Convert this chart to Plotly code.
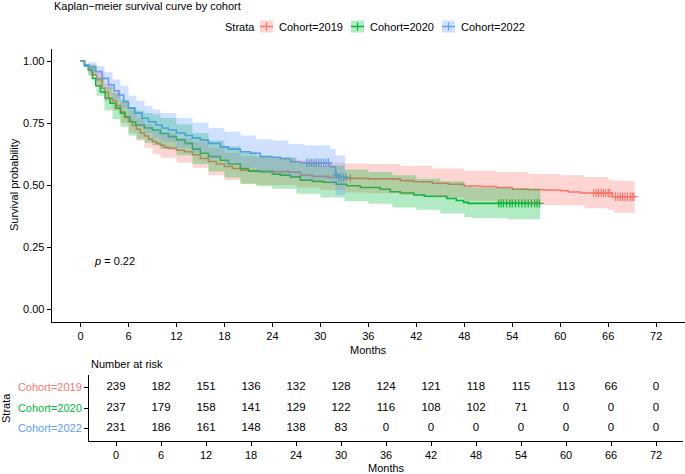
import numpy as np
import plotly.graph_objects as go

# ---------------- data ----------------
cohorts = ["Cohort=2019", "Cohort=2020", "Cohort=2022"]
colors = ["#F8766D", "#00BA38", "#619CFF"]
fills = ["rgba(248,118,109,0.3)", "rgba(0,186,56,0.3)", "rgba(97,156,255,0.3)"]

t_2019 = [0, 0.5, 1, 1.5, 2, 2.7, 3, 3.5, 4, 4.5, 5, 5.5, 6, 6.5, 7, 7.5, 8, 8.5, 9, 9.5, 10, 10.5, 11, 12, 13,
          14, 15, 16, 17, 18, 19, 20, 21, 22, 24, 26, 27.5, 29, 31, 33, 36, 38, 40, 41.7, 44, 46, 48, 50, 52, 54,
          56, 58, 60, 61, 62.5, 66.5, 69.3]
s_2019 = [1.0, 0.985, 0.965, 0.944, 0.925, 0.89, 0.875, 0.85, 0.84, 0.82, 0.795, 0.772, 0.757, 0.74, 0.725, 0.71,
          0.698, 0.685, 0.675, 0.667, 0.66, 0.652, 0.648, 0.64, 0.634, 0.622, 0.607, 0.595, 0.585, 0.575, 0.567,
          0.56, 0.558, 0.555, 0.554, 0.552, 0.54, 0.535, 0.531, 0.527, 0.525, 0.525, 0.518, 0.513, 0.507, 0.503,
          0.496, 0.494, 0.49, 0.483, 0.481, 0.48, 0.477, 0.472, 0.468, 0.453, 0.453]

t_2020 = [0, 0.5, 1, 1.5, 1.9, 2.5, 3.1, 3.7, 4.4, 5, 5.6, 6.2, 6.9, 8, 9, 10, 11, 12, 13.1, 14, 15, 16, 17.5, 18.5,
          20, 21, 22.5, 24, 25, 26.25, 27.5, 29, 30.4, 32, 33.3, 35, 37.5, 38.75, 40, 41.7, 43, 45.8, 47, 47.9,
          48.5, 57.5]
s_2020 = [1.0, 0.98, 0.964, 0.93, 0.90, 0.875, 0.85, 0.83, 0.81, 0.79, 0.775, 0.755, 0.742, 0.73, 0.722, 0.708,
          0.695, 0.682, 0.668, 0.645, 0.628, 0.615, 0.60, 0.585, 0.567, 0.556, 0.554, 0.544, 0.54, 0.533, 0.52,
          0.515, 0.511, 0.503, 0.497, 0.49, 0.483, 0.473, 0.468, 0.46, 0.455, 0.446, 0.438, 0.43, 0.426, 0.426]

t_2022 = [0, 0.5, 1, 1.9, 2.7, 3.5, 4.2, 4.8, 5.4, 6, 6.8, 7.7, 8.5, 9.4, 10.2, 11, 12, 13.1, 14, 15, 16, 17.5,
          18.5, 20, 21.25, 22.5, 24, 25, 26.25, 27.5, 31.25, 31.9, 32.3, 33.3]
s_2022 = [1.0, 0.985, 0.975, 0.957, 0.93, 0.903, 0.88, 0.863, 0.835, 0.81, 0.79, 0.769, 0.755, 0.742, 0.73,
          0.722, 0.71, 0.70, 0.69, 0.681, 0.668, 0.654, 0.645, 0.634, 0.628, 0.614, 0.612, 0.607, 0.594, 0.59,
          0.574, 0.54, 0.531, 0.531]

# confidence bands
bt_2019 = [0, 1, 2, 3, 4, 5, 6, 7, 8, 9, 10, 12, 14, 16, 18, 20, 22, 24, 27, 30, 33, 36, 40, 44, 48, 52, 56, 60,
           63, 66, 66.7, 69.3]
lo_2019 = [1, .945, .895, .84, .80, .75, .71, .68, .65, .625, .61, .59, .57, .54, .52, .505, .50, .50, .49, .48,
           .47, .467, .46, .45, .437, .43, .42, .418, .406, .40, .388, .388]
hi_2019 = [1, .985, .955, .91, .88, .84, .80, .77, .745, .725, .71, .69, .675, .65, .63, .615, .61, .61, .60, .59,
           .587, .585, .578, .567, .558, .553, .545, .54, .532, .522, .517, .517]

bt_2020 = [0, 1, 2, 3, 4, 5, 6, 7, 8, 9, 10, 12, 14, 16, 18, 20, 22, 24, 27, 30, 33, 36, 39, 42, 45, 48, 49, 53.5,
           57.5]
lo_2020 = [1, .94, .86, .80, .765, .735, .70, .685, .67, .66, .645, .62, .585, .555, .53, .505, .495, .485, .465,
           .45, .435, .425, .41, .40, .385, .37, .366, .362, .362]
hi_2020 = [1, .985, .935, .895, .87, .845, .815, .80, .79, .785, .77, .745, .71, .68, .655, .632, .62, .61, .59,
           .578, .563, .553, .54, .525, .515, .495, .49, .487, .487]

bt_2022 = [0, 1, 2, 3, 4, 5, 6, 7, 8, 9, 10, 12, 14, 16, 18, 20, 22, 24, 26, 28, 31.25, 31.9, 33.1]
lo_2022 = [1, .955, .925, .885, .845, .81, .76, .735, .71, .69, .675, .65, .63, .605, .585, .57, .552, .545, .53,
           .52, .50, .46, .453]
hi_2022 = [1, .995, .98, .955, .925, .90, .86, .84, .82, .805, .79, .77, .752, .73, .715, .70, .685, .68, .665,
           .66, .645, .62, .62]

# censoring times
c_2019 = [33.75, 64.2, 64.5, 64.8, 65.1, 65.4, 65.7, 66.0, 66.2, 66.9, 67.2, 67.5, 67.8, 68.1, 68.4, 68.75, 69.0,
          69.2]
c_2020 = [52.3, 52.6, 52.9, 53.3, 53.7, 54.0, 54.4, 54.8, 55.2, 55.6, 56.0, 56.4, 56.8, 57.1, 57.4]
c_2022 = [28.3, 28.6, 28.9, 29.2, 29.5, 29.8, 30.1, 30.4, 30.7, 31.0, 32.0, 32.3, 32.6, 32.9, 33.2]

# risk table
risk_times = [0, 6, 12, 18, 24, 30, 36, 42, 48, 54, 60, 66, 72]
risk_2019 = [239, 182, 151, 136, 132, 128, 124, 121, 118, 115, 113, 66, 0]
risk_2020 = [237, 179, 158, 141, 129, 122, 116, 108, 102, 71, 0, 0, 0]
risk_2022 = [231, 186, 161, 148, 138, 83, 0, 0, 0, 0, 0, 0, 0]

x_ticks = [0, 6, 12, 18, 24, 30, 36, 42, 48, 54, 60, 66, 72]
y_ticks = [0, 0.25, 0.5, 0.75, 1.0]
y_ticktext = ["0.00", "0.25", "0.50", "0.75", "1.00"]

curves = [(t_2019, s_2019), (t_2020, s_2020), (t_2022, s_2022)]
bands = [(bt_2019, lo_2019, hi_2019), (bt_2020, lo_2020, hi_2020), (bt_2022, lo_2022, hi_2022)]
censors = [c_2019, c_2020, c_2022]
risks = [risk_2019, risk_2020, risk_2022]

FONT = "Liberation Sans, Arial, Helvetica, sans-serif"
FS = 11

fig = go.Figure()

# survival lines
for (t, s), col in zip(curves, colors):
    fig.add_trace(go.Scatter(x=t, y=s, mode="lines", line=dict(color=col, width=1.6, shape="hv"),
                             showlegend=False, hoverinfo="skip", xaxis="x", yaxis="y"))

# censor marks
for (t, s), cs, col in zip(curves, censors, colors):
    ta = np.array(t)
    sa = np.array(s)
    idx = np.searchsorted(ta, cs, side="right") - 1
    fig.add_trace(go.Scatter(x=cs, y=sa[idx], mode="markers",
                             marker=dict(symbol="cross-thin", size=6, line=dict(color=col, width=1.2)),
                             showlegend=False, hoverinfo="skip", xaxis="x", yaxis="y"))

# confidence bands (drawn on top, like ggsurvplot)
for (bt, lo, hi), fc in zip(bands, fills):
    fig.add_trace(go.Scatter(x=bt, y=hi, mode="lines", line=dict(width=0, shape="hv"),
                             showlegend=False, hoverinfo="skip", xaxis="x", yaxis="y"))
    fig.add_trace(go.Scatter(x=bt, y=lo, mode="lines", line=dict(width=0, shape="hv"), fill="tonexty",
                             fillcolor=fc, showlegend=False, hoverinfo="skip", xaxis="x", yaxis="y"))

# risk table numbers
rows = [3, 2, 1]
for r, vals in zip(rows, risks):
    fig.add_trace(go.Scatter(x=risk_times, y=[r] * len(risk_times), mode="text",
                             text=[str(v) for v in vals], textposition="middle center",
                             textfont=dict(family=FONT, size=11.5, color="black"),
                             showlegend=False, hoverinfo="skip", xaxis="x2", yaxis="y2"))

axis_common = dict(showline=True, linecolor="black", linewidth=1, ticks="outside", ticklen=4,
                   tickcolor="black", tickwidth=1, showgrid=False, zeroline=False, automargin=False,
                   tickfont=dict(family=FONT, size=FS, color="black"))

W, H = 685, 474
main_x_dom = [51.7 / W, 1.0]
main_y_dom = [1 - 321.5 / H, 1 - 48.6 / H]
tab_x_dom = [89 / W, 683 / W]
tab_y_dom = [1 - 441 / H, 1 - 375 / H]

fig.update_layout(
    width=W, height=H, margin=dict(l=0, r=0, t=0, b=0, autoexpand=False),
    paper_bgcolor="white", plot_bgcolor="white", showlegend=False,
    xaxis=dict(domain=main_x_dom, range=[-3.6, 75.6], tickvals=x_ticks, anchor="y", **axis_common),
    yaxis=dict(domain=main_y_dom, range=[-0.05, 1.05], tickvals=y_ticks, ticktext=y_ticktext, anchor="x",
               **axis_common),
    xaxis2=dict(domain=tab_x_dom, range=[-3.6, 75.6], tickvals=x_ticks, anchor="y2", **axis_common),
    yaxis2=dict(domain=tab_y_dom, range=[0.4, 3.6], tickvals=rows,
                ticktext=[f"<span style='color:{c}'>{n}</span>" for c, n in zip(colors, cohorts)],
                anchor="x2", **axis_common),
)

def pann(text, x, y, xanchor="center", angle=0, size=FS):
    return dict(text=text, x=x / W, y=1 - y / H, xref="paper", yref="paper", showarrow=False,
                xanchor=xanchor, yanchor="middle", textangle=angle,
                font=dict(family=FONT, size=size, color="black"))

ann = []
ann.append(pann("Kaplan\u2212meier survival curve by cohort", 51.5, 5.5, xanchor="left"))
ann.append(pann("Survival probability", 14, 185, angle=-90))
ann.append(pann("Months", 368, 350))
ann.append(dict(text="<i>p</i> = 0.22", x=1.46, y=0.195, xref="x", yref="y", showarrow=False,
                xanchor="left", yanchor="middle", font=dict(family=FONT, size=FS, color="black")))
ann.append(pann("Number at risk", 89, 364, xanchor="left"))
ann.append(pann("Strata", 6, 408, angle=-90))
ann.append(pann("Months", 386, 468))

# legend (built manually)
ly = 26.5
ann.append(pann("Strata", 223, ly, xanchor="left"))
key_x = [260, 351, 442]
shapes = []
for kx, col, fc, name in zip(key_x, colors, fills, cohorts):
    x0, x1 = kx / W, (kx + 13) / W
    y0, y1 = 1 - (ly + 6) / H, 1 - (ly - 6) / H
    shapes.append(dict(type="rect", xref="paper", yref="paper", x0=x0, x1=x1, y0=y0, y1=y1,
                       fillcolor=fc, line=dict(width=0)))
    shapes.append(dict(type="line", xref="paper", yref="paper", x0=x0, x1=x1, y0=1 - ly / H, y1=1 - ly / H,
                       line=dict(color=col, width=1.4)))
    shapes.append(dict(type="line", xref="paper", yref="paper", x0=(kx + 6.5) / W, x1=(kx + 6.5) / W,
                       y0=1 - (ly + 4) / H, y1=1 - (ly - 4) / H, line=dict(color=col, width=1.2)))
    ann.append(pann(name, kx + 17, ly, xanchor="left"))

fig.update_layout(annotations=ann, shapes=shapes)
fig.write_html("out.html", config={"displayModeBar": False},
               post_script="document.body.style.margin='0px';")
